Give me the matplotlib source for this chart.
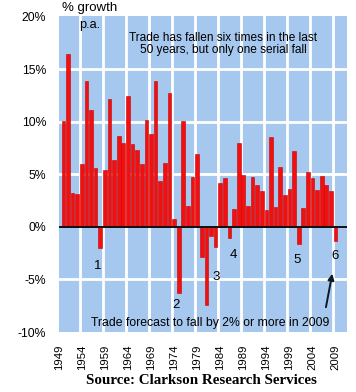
import matplotlib
matplotlib.use('Agg')
import matplotlib.pyplot as plt

years = list(range(1950, 2010))
growth = [10.1, 16.4, 3.2, 3.1, 6.0, 13.9, 11.1, 5.6, -2.0, 5.4,
          12.2, 6.4, 8.6, 8.0, 12.4, 7.9, 7.3, 6.0, 10.2, 8.8,
          13.9, 4.4, 6.1, 12.7, 0.7, -6.3, 10.1, 2.0, 4.7, 6.9,
          -2.9, -7.4, -0.9, -1.9, 4.2, 4.6, -1.1, 1.7, 8.0, 4.9,
          2.0, 4.7, 4.0, 3.4, 1.6, 8.5, 1.9, 5.7, 3.0, 3.6,
          7.2, -1.6, 1.8, 5.2, 4.6, 3.5, 4.8, 4.0, 3.4, -1.3]
tick_years = list(range(1949, 2010, 5))
y_ticks = [-10, -5, 0, 5, 10, 15, 20]

# numbered falls: (label, year position, value position)
falls = [('1', 1957.5, -3.7), ('2', 1974.4, -7.4), ('3', 1983.1, -4.8),
         ('4', 1986.8, -2.7), ('5', 2000.7, -3.2), ('6', 2008.9, -2.8)]

plt.rcParams['font.family'] = ['Liberation Sans', 'DejaVu Sans']

fig = plt.figure(figsize=(3.56, 3.92), dpi=100)
ax = fig.add_axes([0.165, 0.153, 0.81, 0.805])
ax.set_facecolor('#a6c8ee')

ax.bar(years, growth, width=0.8, color='#f20f0f', edgecolor='#c80000',
       linewidth=0.4, zorder=3)
ax.axhline(0, color='#101010', lw=1.4, zorder=4)

# white grid between the blue blocks
for gx in range(1953, 2009, 5):
    ax.axvline(gx + 0.5, color='white', lw=2, zorder=1)
for gy in [-5, 5, 10, 15]:
    ax.axhline(gy, color='white', lw=2, zorder=1)

ax.set_xlim(1949, 2011.5)
ax.set_ylim(-10, 20)
ax.set_xticks(tick_years)
ax.set_xticklabels([str(y) for y in tick_years], rotation=90, fontsize=8.2)
ax.set_yticks(y_ticks)
ax.set_yticklabels(['%d%%' % v for v in y_ticks], fontsize=8.8)
ax.tick_params(length=0)
ax.tick_params(axis='x', pad=9)
ax.tick_params(axis='y', pad=9)
for s in ax.spines.values():
    s.set_visible(False)

for lab, x, y in falls:
    ax.text(x, y, lab, fontsize=9.5, ha='center', va='center', zorder=5)

ax.annotate('', xy=(2008.4, -4.2), xytext=(2006.8, -7.9),
            arrowprops=dict(arrowstyle='-|>', color='#101820', lw=1.4,
                            mutation_scale=9), zorder=5)

ax.text(1984.6, 17.4, 'Trade has fallen six times in the last\n50 years, but only one serial fall',
        fontsize=8.6, ha='center', va='center', linespacing=1.05, zorder=5)
ax.text(1981.8, -9.1, 'Trade forecast to fall by 2% or more in 2009',
        fontsize=8.8, ha='center', va='center', zorder=5)

fig.text(90 / 356, 1 - 8 / 392, '% growth', fontsize=9.5, ha='center', va='center')
fig.text(90 / 356, 1 - 25 / 392, 'p.a.', fontsize=9.2, ha='center', va='center')
fig.text(201 / 356, 1 - 380 / 392, 'Source: Clarkson Research Services',
         fontsize=10.8, fontweight='bold', family=['Liberation Serif', 'DejaVu Serif'],
         ha='center', va='center')

fig.savefig('out.png', dpi=100)
